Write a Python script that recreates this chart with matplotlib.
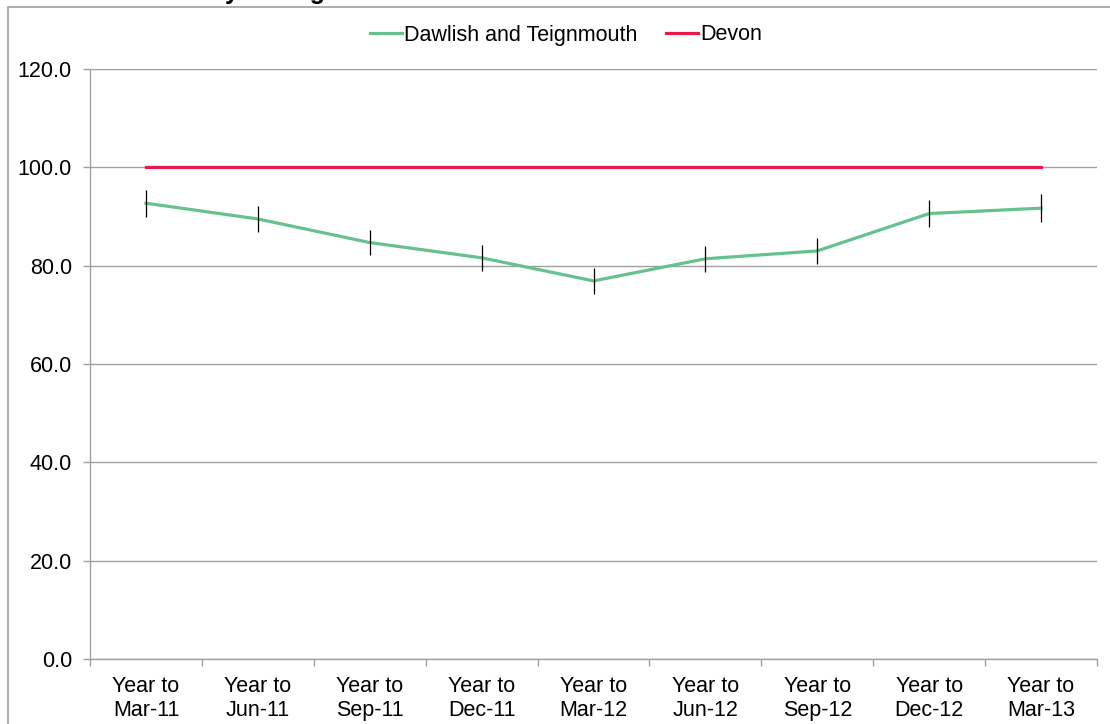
import matplotlib
matplotlib.use("Agg")
import matplotlib.pyplot as plt
from matplotlib.patches import Rectangle
import numpy as np

plt.rcParams['font.family'] = ['Liberation Sans', 'DejaVu Sans']

periods = ["Mar-11", "Jun-11", "Sep-11", "Dec-11", "Mar-12", "Jun-12", "Sep-12", "Dec-12", "Mar-13"]
labels = ["Year to\n" + p for p in periods]
dawlish = [92.7, 89.5, 84.7, 81.6, 76.9, 81.4, 83.0, 90.6, 91.7]
dawlish_err = [2.7, 2.6, 2.6, 2.6, 2.6, 2.6, 2.6, 2.8, 2.8]
devon = [100.0] * 9

green = '#66C28C'
red = '#E8194B'
grey = '#A0A0A0'

fig = plt.figure(figsize=(11.1, 7.24), dpi=100)
ax = fig.add_axes([90 / 1110, 1 - 659 / 724, (1097 - 90) / 1110, (659 - 69) / 724])

# outer chart frame (cut off at right/bottom like the source)
fig.patches.append(Rectangle((8 / 1110, -0.1), 1.2, 1 - 7 / 724 + 0.1, transform=fig.transFigure,
                             fill=False, edgecolor=grey, linewidth=1.2))
# title mostly cropped above the frame, only descenders show
fig.text(135 / 1110, 1.0 + 1 / 724, "Mortality - all ages", fontsize=18, fontweight='bold',
         ha='left', va='baseline')

x = np.arange(len(periods))
ax.plot(x, dawlish, color=green, linewidth=2.3, label="Dawlish and Teignmouth", zorder=3)
ax.errorbar(x, dawlish, yerr=dawlish_err, fmt='none', ecolor='black', elinewidth=0.9, capsize=0, zorder=4)
ax.plot(x, devon, color=red, linewidth=2.3, label="Devon", zorder=3)

ax.set_xlim(-0.5, len(periods) - 0.5)
ax.set_ylim(0, 120)
ax.set_yticks(np.arange(0, 121, 20))
ax.set_yticklabels([f"{v:.1f}" for v in np.arange(0, 121, 20)], fontsize=15.5)
ax.set_xticks(x)
ax.set_xticklabels(labels, fontsize=15.5)
ax.set_xticks(np.arange(-0.5, len(periods), 1), minor=True)
ax.tick_params(axis='x', which='major', length=0, pad=12)
ax.tick_params(axis='x', which='minor', length=5, color=grey, width=1)
ax.tick_params(axis='y', length=5, color=grey, width=1, pad=8)

ax.grid(axis='y', color=grey, linewidth=1)
ax.set_axisbelow(True)
for s in ['top', 'right']:
    ax.spines[s].set_visible(False)
for s in ['left', 'bottom']:
    ax.spines[s].set_color(grey)
    ax.spines[s].set_linewidth(1)

fig.legend(loc='center', bbox_to_anchor=(566 / 1110, 1 - 35 / 724), ncol=2, frameon=False,
           fontsize=15.5, handlelength=1.5, handletextpad=0.1, columnspacing=1.3)

fig.savefig("out.png", dpi=100)
